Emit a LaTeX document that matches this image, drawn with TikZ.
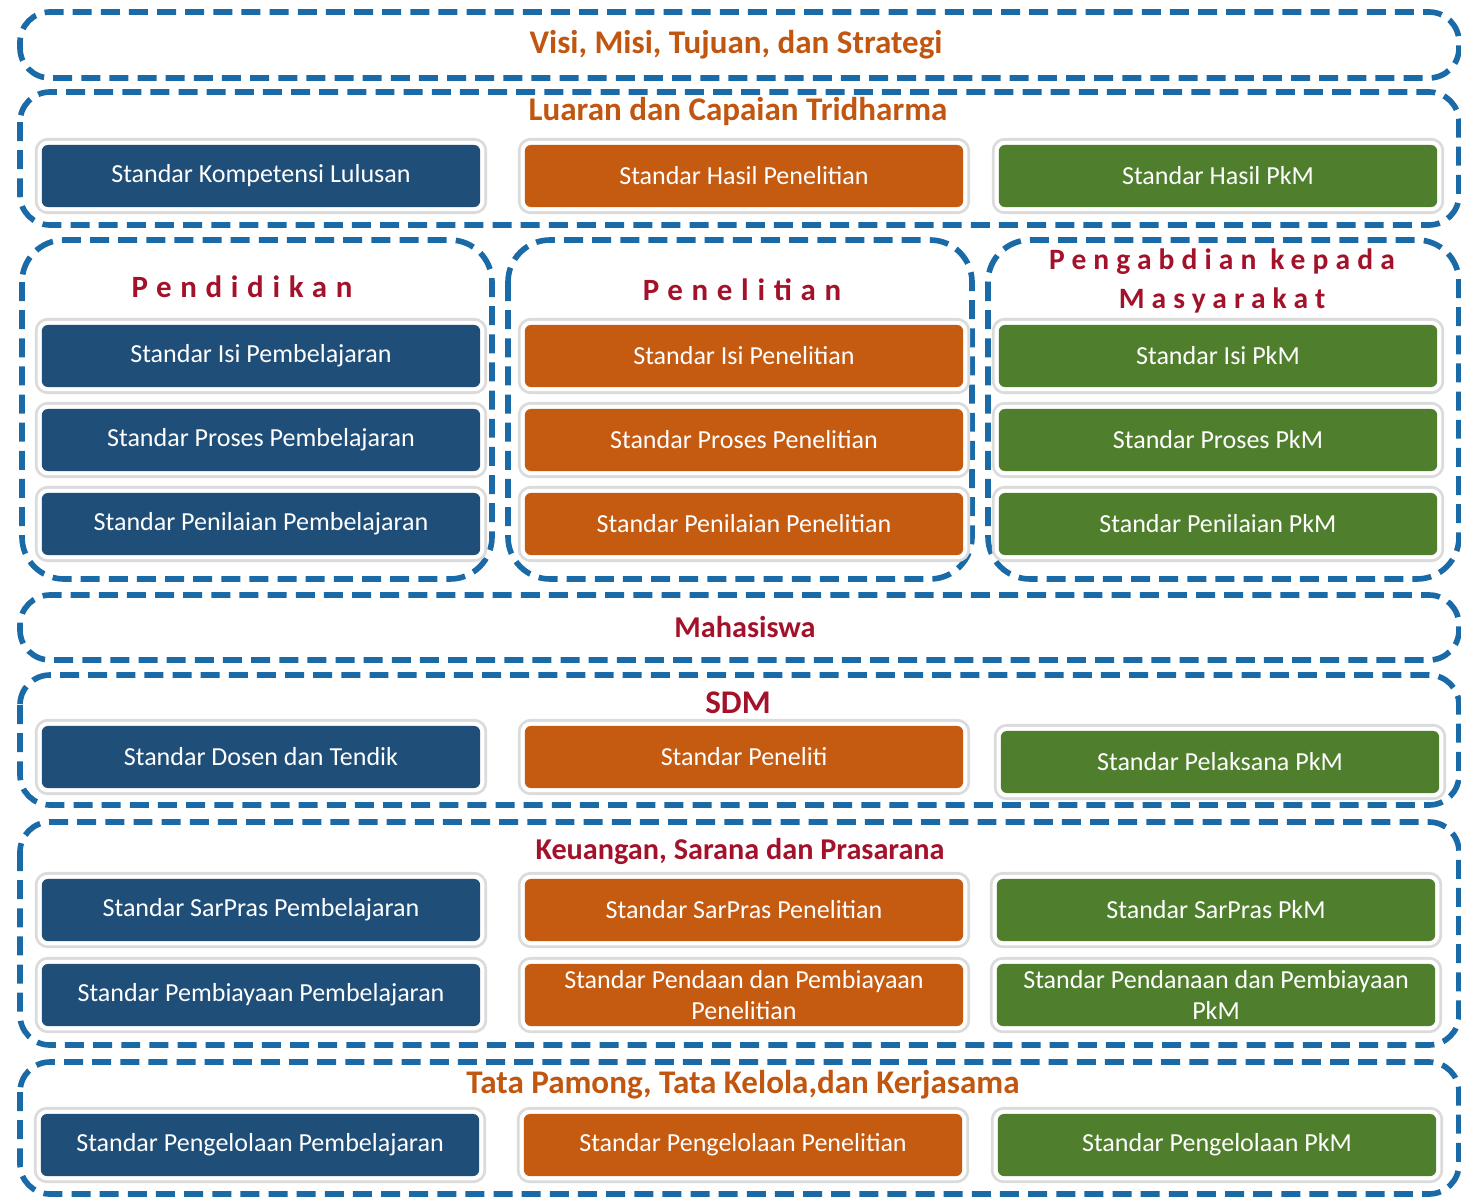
\documentclass[tikz,border=0pt]{standalone}
\usepackage{fontspec}
\setmainfont{Carlito}
\usetikzlibrary{shadows}
\definecolor{stdblue}{HTML}{1F4E79}
\definecolor{stdorange}{HTML}{C55A11}
\definecolor{stdgreen}{HTML}{4F7F2D}
\definecolor{dashblue}{HTML}{1B6AA8}
\definecolor{ttlorange}{HTML}{C0560F}
\definecolor{ttlred}{HTML}{A3122A}

\begin{document}
\begin{tikzpicture}[x=0.01cm, y=-0.01cm]
	\tikzset{frame/.style = {draw=dashblue, line width=1.6pt, dash pattern=on 5.4pt off 2.6pt, rounded corners=0.3cm}}
	\tikzset{std/.style = {rounded corners=0.06cm, minimum width=4.38cm, minimum height=0.62cm, inner sep=0pt, text=white, align=center, font=\fontsize{7.4}{8.8}\selectfont, drop shadow={opacity=0.3, shadow xshift=0.4mm, shadow yshift=-0.5mm}, preaction={draw=black!14, line width=4pt}, preaction={draw=white, line width=2.4pt}}}
	\tikzset{bbox/.style = {std, fill=stdblue}, obox/.style = {std, fill=stdorange}, gbox/.style = {std, fill=stdgreen}}
	\tikzset{ttl/.style = {font=\fontsize{9.4}{11}\selectfont\bfseries, text=ttlorange}}
	\tikzset{sub/.style = {font=\fontsize{8.6}{10}\selectfont\bfseries, text=ttlred}}
	\tikzset{head/.style = {font=\fontsize{8.8}{11}\selectfont\bfseries\addfontfeature{LetterSpace=28}, text=ttlred}}
	\tikzset{headsm/.style = {font=\fontsize{8.4}{10}\selectfont\bfseries\addfontfeature{LetterSpace=24}, text=ttlred}}

	\fill[white] (0,0) rectangle (1461,1197);
	\useasboundingbox (0,0) rectangle (1461,1197);

	% frames
	\draw[frame] (20,12) rectangle (1459,78);
	\draw[frame] (20,92) rectangle (1459,225);
	\draw[frame, rounded corners=0.42cm] (22,240) rectangle (492,579);
	\draw[frame, rounded corners=0.42cm] (508,240) rectangle (972,579);
	\draw[frame, rounded corners=0.42cm] (988,240) rectangle (1459,579);
	\draw[frame] (20,595) rectangle (1459,660);
	\draw[frame] (20,675) rectangle (1459,805);
	\draw[frame] (20,822) rectangle (1459,1045);
	\draw[frame] (20,1062) rectangle (1459,1194);

	% titles
	\node[ttl] (visi) at (736,45) {Visi, Misi, Tujuan, dan Strategi};
	\node[ttl] (luaran) at (738,112) {Luaran dan Capaian Tridharma};
	\node[head] (pend) at (242,287) {Pendidikan};
	\node[head] (pen) at (742,290) {Penelitian};
	\node[headsm] (pkm_a) at (1222,262) {Pengabdian kepada};
	\node[headsm] (pkm_b) at (1222,300) {Masyarakat};
	\node[sub] (mhs) at (745,627) {Mahasiswa};
	\node[sub, font=\fontsize{9.4}{11}\selectfont\bfseries] (sdm) at (738,703) {SDM};
	\node[sub] (keu) at (740,851) {Keuangan, Sarana dan Prasarana};
	\node[ttl] (tata) at (743,1085) {Tata Pamong, Tata Kelola,dan Kerjasama};

	\node[bbox] (L_1) at (261,176) {Standar Kompetensi Lulusan};
	\node[obox] (L_2) at (744,176) {Standar Hasil Penelitian};
	\node[gbox] (L_3) at (1218,176) {Standar Hasil PkM};

	\node[bbox] (A_1) at (261,356) {Standar Isi Pembelajaran};
	\node[bbox] (A_2) at (261,440) {Standar Proses Pembelajaran};
	\node[bbox] (A_3) at (261,524) {Standar Penilaian Pembelajaran};

	\node[obox] (B_1) at (744,356) {Standar Isi Penelitian};
	\node[obox] (B_2) at (744,440) {Standar Proses Penelitian};
	\node[obox] (B_3) at (744,524) {Standar Penilaian Penelitian};

	\node[gbox] (C_1) at (1218,356) {Standar Isi PkM};
	\node[gbox] (C_2) at (1218,440) {Standar Proses PkM};
	\node[gbox] (C_3) at (1218,524) {Standar Penilaian PkM};

	\node[bbox] (S_1) at (261,757) {Standar Dosen dan Tendik};
	\node[obox] (S_2) at (744,757) {Standar Peneliti};
	\node[gbox] (S_3) at (1220,762) {Standar Pelaksana PkM};

	\node[bbox] (K_1) at (261,910) {Standar SarPras Pembelajaran};
	\node[obox] (K_2) at (744,910) {Standar SarPras Penelitian};
	\node[gbox] (K_3) at (1216,910) {Standar SarPras PkM};
	\node[bbox] (K_4) at (261,995) {Standar Pembiayaan Pembelajaran};
	\node[obox] (K_5) at (744,995) {Standar Pendaan dan Pembiayaan\\Penelitian};
	\node[gbox] (K_6) at (1216,995) {Standar Pendanaan dan Pembiayaan\\PkM};

	\node[bbox] (T_1) at (260,1145) {Standar Pengelolaan Pembelajaran};
	\node[obox] (T_2) at (743,1145) {Standar Pengelolaan Penelitian};
	\node[gbox] (T_3) at (1217,1145) {Standar Pengelolaan PkM};

\end{tikzpicture}
\end{document}
